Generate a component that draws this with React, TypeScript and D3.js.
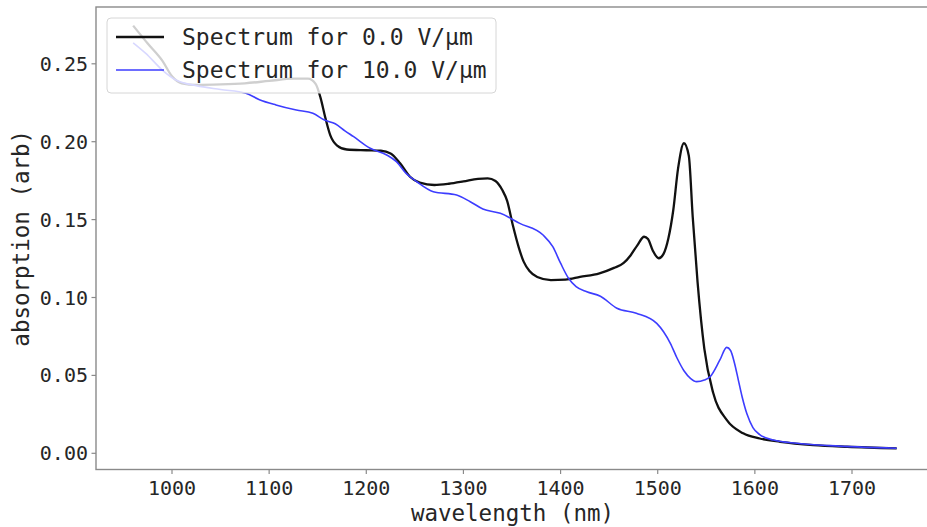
import React from "react";
import * as d3 from "d3";

const W = 927;
const H = 527;

const xTicks = [1000, 1100, 1200, 1300, 1400, 1500, 1600, 1700];
const yTicks = [0.0, 0.05, 0.1, 0.15, 0.2, 0.25];

const seriesNames = ["Spectrum for 0.0 V/μm", "Spectrum for 10.0 V/μm"];

const wl0 = [960, 975, 990, 1000, 1010, 1025, 1050, 1075, 1100, 1125, 1140, 1148, 1153, 1158, 1163, 1170, 1180, 1200, 1215, 1225, 1235, 1245, 1255, 1270, 1285, 1300, 1315, 1325, 1333, 1340, 1345, 1351, 1357, 1362, 1368, 1376, 1390, 1405, 1420, 1440, 1455, 1465, 1472, 1479, 1486, 1490, 1495, 1501, 1506, 1511, 1516, 1521, 1527, 1532, 1536, 1541, 1548, 1557, 1571, 1588, 1605, 1626, 1660, 1695, 1746];
const abs0 = [0.2745, 0.263, 0.252, 0.242, 0.2375, 0.2365, 0.2368, 0.2375, 0.239, 0.2405, 0.2405, 0.237, 0.228, 0.215, 0.204, 0.1975, 0.195, 0.1945, 0.1942, 0.1925, 0.186, 0.1775, 0.1737, 0.1722, 0.173, 0.1745, 0.1762, 0.1765, 0.1748, 0.169, 0.162, 0.146, 0.132, 0.123, 0.117, 0.1132, 0.1112, 0.1115, 0.1132, 0.1155, 0.119, 0.1222, 0.127, 0.1335, 0.139, 0.1375, 0.13, 0.1252, 0.128, 0.138, 0.156, 0.183, 0.199, 0.191, 0.152, 0.11, 0.067, 0.039, 0.0214, 0.0128, 0.0095, 0.0074, 0.0053, 0.0042, 0.0032];

const wl10 = [960, 973, 990, 1004, 1025, 1050, 1076, 1090, 1107, 1128, 1145, 1157, 1168, 1178, 1187, 1204, 1221, 1231, 1241, 1252, 1269, 1293, 1307, 1320, 1338, 1358, 1382, 1392, 1400, 1408, 1416, 1427, 1441, 1458, 1478, 1499, 1506, 1513, 1520, 1527, 1534, 1540, 1548, 1554, 1564, 1571, 1575, 1579, 1583, 1587, 1592, 1598, 1605, 1619, 1643, 1677, 1746];
const abs10 = [0.2635, 0.2567, 0.246, 0.2396, 0.236, 0.2335, 0.2311, 0.227, 0.2236, 0.2203, 0.2182, 0.2139, 0.2115, 0.207, 0.2032, 0.1958, 0.1915, 0.1872, 0.1797, 0.1743, 0.1679, 0.1658, 0.1615, 0.1568, 0.154, 0.1476, 0.1401, 0.1326, 0.122, 0.1125, 0.107, 0.1037, 0.1008, 0.0931, 0.0899, 0.0834, 0.078, 0.0706, 0.061, 0.053, 0.048, 0.046, 0.047, 0.0492, 0.0599, 0.068, 0.066, 0.058, 0.047, 0.036, 0.025, 0.0165, 0.012, 0.0085, 0.0064, 0.0049, 0.0032];

const MONO = "'DejaVu Sans Mono', monospace";

export default function App() {
  const left = 96;
  const right = 939;
  const top = 7;
  const bottom = 469.5;

  const x = d3.scaleLinear().domain([1000, 1700]).range([172, 852]);
  const y = d3.scaleLinear().domain([0, 0.25]).range([453.3, 63.8]);

  const line = d3
    .line<[number, number]>()
    .x((d) => x(d[0]))
    .y((d) => y(d[1]))
    .curve(d3.curveMonotoneX);

  const d0 = line(wl0.map((w, i) => [w, abs0[i]]) as [number, number][]) || "";
  const d10 = line(wl10.map((w, i) => [w, abs10[i]]) as [number, number][]) || "";

  const textColor = "#262626";
  const spine = "#8a8a8a";

  return (
    <svg
      width={W}
      height={H}
      style={{ position: "absolute", left: 0, top: 0, background: "#fff" }}
    >
      <defs>
        <clipPath id="plotclip">
          <rect x={left} y={top} width={right - left} height={bottom - top} />
        </clipPath>
      </defs>
      <rect x={0} y={0} width={W} height={H} fill="#fff" />
      <g clipPath="url(#plotclip)">
        <path d={d0} fill="none" stroke="#111" strokeWidth={2.3} />
        <path d={d10} fill="none" stroke="#3d3dff" strokeWidth={1.6} />
      </g>
      <rect
        x={left}
        y={top}
        width={right - left}
        height={bottom - top}
        fill="none"
        stroke={spine}
        strokeWidth={1.4}
      />
      {xTicks.map((t) => (
        <g key={"x" + t}>
          <line x1={x(t)} x2={x(t)} y1={bottom} y2={bottom + 4.5} stroke={spine} strokeWidth={1.2} />
          <text
            x={x(t)}
            y={488}
            textAnchor="middle"
            dominantBaseline="central"
            fontFamily={MONO}
            fontSize={20}
            fill={textColor}
          >
            {t}
          </text>
        </g>
      ))}
      {yTicks.map((t) => (
        <g key={"y" + t}>
          <line x1={left - 4.5} x2={left} y1={y(t)} y2={y(t)} stroke={spine} strokeWidth={1.2} />
          <text
            x={88}
            y={y(t)}
            textAnchor="end"
            dominantBaseline="central"
            fontFamily={MONO}
            fontSize={20}
            fill={textColor}
          >
            {t.toFixed(2)}
          </text>
        </g>
      ))}
      <text
        x={(left + 927) / 2 + 1}
        y={513}
        textAnchor="middle"
        dominantBaseline="central"
        fontFamily={MONO}
        fontSize={22.5}
        fill={textColor}
      >
        wavelength (nm)
      </text>
      <text
        transform={`translate(21, ${(top + bottom) / 2}) rotate(-90)`}
        textAnchor="middle"
        dominantBaseline="central"
        fontFamily={MONO}
        fontSize={22.5}
        fill={textColor}
      >
        absorption (arb)
      </text>
      <g>
        <rect
          x={107}
          y={18}
          width={389}
          height={75}
          rx={4}
          fill="#fff"
          fillOpacity={0.8}
          stroke="#d6d6d6"
          strokeWidth={1}
        />
        <line x1={116} x2={164} y1={37} y2={37} stroke="#111" strokeWidth={2.3} />
        <line x1={116} x2={164} y1={70} y2={70} stroke="#3d3dff" strokeWidth={1.6} />
        <text x={182} y={37} dominantBaseline="central" fontFamily={MONO} fontSize={23} fill={textColor}>
          {seriesNames[0]}
        </text>
        <text x={182} y={70} dominantBaseline="central" fontFamily={MONO} fontSize={23} fill={textColor}>
          {seriesNames[1]}
        </text>
      </g>
    </svg>
  );
}
